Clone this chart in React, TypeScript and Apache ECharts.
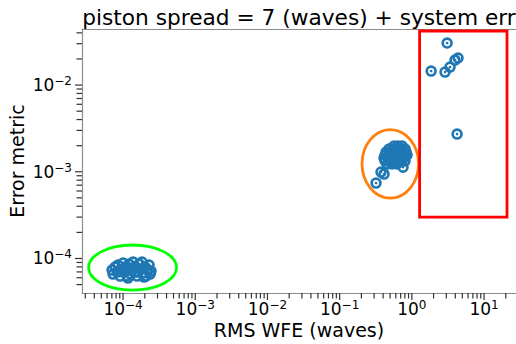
import React, { useEffect, useRef } from "react";
import * as echarts from "echarts";

const FONT = "DejaVu Sans";
const BLUE = "#1f77b4";

const X_MIN = 2.7e-5;
const X_MAX = 27.7;
const Y_MIN = 4.0e-5;
const Y_MAX = 4.43e-2;

const titleText = "piston spread = 7 (waves) + system err";
const xName = "RMS WFE (waves)";
const yName = "Error metric";

// low-error cluster (green ellipse)
const lowX = [7.04e-5, 7.27e-5, 7.75e-5, 8.26e-5, 8.52e-5, 9.09e-5, 9.38e-5, 1.0e-4, 1.03e-4, 1.1e-4, 1.14e-4, 1.21e-4, 1.25e-4, 1.29e-4, 1.38e-4, 1.42e-4, 1.51e-4, 1.56e-4, 1.67e-4, 1.72e-4, 1.83e-4, 1.89e-4, 2.02e-4, 2.08e-4, 2.22e-4, 2.29e-4, 2.44e-4, 2.37e-4, 1.95e-4, 1.17e-4];
const lowY = [7.35e-5, 6.61e-5, 7.96e-5, 6.97e-5, 8.39e-5, 6.27e-5, 7.54e-5, 8.85e-5, 6.97e-5, 7.96e-5, 6.27e-5, 8.62e-5, 7.35e-5, 6.61e-5, 9.09e-5, 7.96e-5, 6.97e-5, 6.27e-5, 8.62e-5, 7.54e-5, 9.09e-5, 6.78e-5, 7.96e-5, 6.27e-5, 7.35e-5, 8.39e-5, 7.16e-5, 6.61e-5, 6.1e-5, 5.94e-5];

// mid cluster (orange ellipse)
const midX = [0.566, 0.644, 0.732, 0.483, 0.549, 0.624, 0.708, 0.805, 0.44, 0.499, 0.566, 0.644, 0.732, 0.832, 0.426, 0.483, 0.549, 0.624, 0.708, 0.805, 0.859, 0.412, 0.468, 0.532, 0.604, 0.687, 0.78, 0.426, 0.483, 0.549, 0.624, 0.708, 0.805, 0.454, 0.532, 0.624, 0.755, 0.374, 0.412, 0.319];
const midY = [1.98e-3, 1.98e-3, 1.98e-3, 1.83e-3, 1.83e-3, 1.83e-3, 1.83e-3, 1.83e-3, 1.69e-3, 1.69e-3, 1.69e-3, 1.69e-3, 1.69e-3, 1.69e-3, 1.56e-3, 1.56e-3, 1.56e-3, 1.56e-3, 1.56e-3, 1.56e-3, 1.56e-3, 1.44e-3, 1.44e-3, 1.44e-3, 1.44e-3, 1.44e-3, 1.44e-3, 1.33e-3, 1.33e-3, 1.33e-3, 1.33e-3, 1.33e-3, 1.33e-3, 1.23e-3, 1.23e-3, 1.23e-3, 1.13e-3, 9.92e-4, 9.4e-4, 7.41e-4];

// high-error cluster (red box)
const highX = [3.08, 1.85, 2.88, 3.38, 3.96, 4.36, 4.23];
const highY = [0.0305, 0.0145, 0.0141, 0.0161, 0.0194, 0.0205, 0.00272];

// annotations: [xFrom, xTo, yFrom, yTo]
const greenEllipse = [3.33e-5, 5.51e-4, 4.32e-5, 1.43e-4];
const orangeEllipse = [0.204, 1.239, 4.97e-4, 3.07e-3];
const redBox = [1.28, 20.8, 3.0e-4, 0.042];

// axis ticks
const xMajorTicks = [1e-4, 1e-3, 1e-2, 1e-1, 1, 10];
const yMajorTicks = [1e-4, 1e-3, 1e-2];
const tickDecades = [-5, -4, -3, -2, -1, 0, 1];
const minorMultiples = [2, 3, 4, 5, 6, 7, 8, 9];

const minorTicks = (lo: number, hi: number) => {
  const out: number[] = [];
  tickDecades.forEach((d) =>
    minorMultiples.forEach((m) => {
      const v = m * Math.pow(10, d);
      if (v > lo * 1.001 && v < hi * 0.999) out.push(v);
    })
  );
  return out;
};

const zip = (xs: number[], ys: number[]) => xs.map((x, i) => [x, ys[i]]);

const RING =
  "path://M0,-10A10,10 0 1,1 0,10A10,10 0 1,1 0,-10ZM0,-5.4A5.4,5.4 0 1,0 0,5.4A5.4,5.4 0 1,0 0,-5.4ZM0,-2.4A2.4,2.4 0 1,1 0,2.4A2.4,2.4 0 1,1 0,-2.4Z";

const labelFmt = (v: number) => {
  const e = Math.round(Math.log10(v));
  return "{b|10}{s|" + (e < 0 ? "\u2212" : "") + Math.abs(e) + "}";
};
const labelRich = {
  b: { fontSize: 17, fontFamily: FONT, color: "#000", lineHeight: 20 },
  s: { fontSize: 12, fontFamily: FONT, color: "#000", lineHeight: 13, verticalAlign: "top" },
};

const tickSeries = (values: number[], axis: "x" | "y", len: number) => ({
  type: "custom",
  silent: true,
  clip: false,
  z: 5,
  data: values.map((v) => (axis === "x" ? [v, Y_MIN] : [X_MIN, v])),
  renderItem: (params: any, api: any) => {
    const p = api.coord([api.value(0), api.value(1)]);
    const shape =
      axis === "x"
        ? { x1: p[0], y1: p[1], x2: p[0], y2: p[1] + len }
        : { x1: p[0] - len, y1: p[1], x2: p[0], y2: p[1] };
    return { type: "line", shape, style: { stroke: "#333", lineWidth: 1.2 } };
  },
});

const shapeSeries = (box: number[], kind: "ellipse" | "rect", color: string) => ({
  type: "custom",
  silent: true,
  clip: false,
  z: 4,
  data: [box],
  renderItem: (params: any, api: any) => {
    const a = api.coord([api.value(0), api.value(2)]);
    const b = api.coord([api.value(1), api.value(3)]);
    const style = { fill: "none", stroke: color, lineWidth: 2.8 };
    if (kind === "ellipse") {
      return {
        type: "ellipse",
        shape: {
          cx: (a[0] + b[0]) / 2,
          cy: (a[1] + b[1]) / 2,
          rx: Math.abs(b[0] - a[0]) / 2,
          ry: Math.abs(b[1] - a[1]) / 2,
        },
        style,
      };
    }
    return {
      type: "rect",
      shape: {
        x: Math.min(a[0], b[0]),
        y: Math.min(a[1], b[1]),
        width: Math.abs(b[0] - a[0]),
        height: Math.abs(b[1] - a[1]),
      },
      style,
    };
  },
});

const scatterSeries = (name: string, xs: number[], ys: number[]) => ({
  name,
  type: "scatter",
  data: zip(xs, ys),
  symbol: RING,
  symbolSize: 11.5,
  itemStyle: { color: BLUE, opacity: 1 },
  z: 3,
});

export default function App() {
  const ref = useRef<HTMLDivElement>(null);
  useEffect(() => {
    if (!ref.current) return;
    const chart = echarts.init(ref.current, undefined, { renderer: "svg" });
    const axisLine = { show: true, lineStyle: { color: "#8c8c8c", width: 1.2 } };
    chart.setOption({
      animation: false,
      backgroundColor: "#fff",
      grid: {
        left: 82,
        right: 0,
        top: 29,
        bottom: 51,
        containLabel: false,
        outerBoundsMode: "none",
      },
      graphic: [
        {
          type: "text",
          x: 299,
          y: 17,
          style: {
            text: titleText,
            fontSize: 21.7,
            fontFamily: FONT,
            fill: "#000",
            textAlign: "center",
            textVerticalAlign: "middle",
          },
        },
      ],
      xAxis: [
        {
          type: "log",
          logBase: 10,
          min: X_MIN,
          max: X_MAX,
          axisLine,
          axisTick: { show: false },
          splitLine: { show: false },
          axisLabel: {
            formatter: labelFmt,
            rich: labelRich,
            margin: 6,
            showMinLabel: false,
            showMaxLabel: false,
          },
          name: xName,
          nameLocation: "middle",
          nameGap: 27,
          nameMoveOverlap: false,
          nameTextStyle: { fontSize: 19, fontFamily: FONT, color: "#000", lineHeight: 19 },
        },
        {
          type: "log",
          logBase: 10,
          position: "top",
          min: X_MIN,
          max: X_MAX,
          axisLine,
          axisTick: { show: false },
          axisLabel: { show: false },
          splitLine: { show: false },
        },
      ],
      yAxis: {
        type: "log",
        logBase: 10,
        min: Y_MIN,
        max: Y_MAX,
        axisLine,
        axisTick: { show: false },
        splitLine: { show: false },
        axisLabel: {
          formatter: labelFmt,
          rich: labelRich,
          margin: 10,
          showMinLabel: false,
          showMaxLabel: false,
        },
        name: yName,
        nameLocation: "middle",
        nameGap: 56,
        nameMoveOverlap: false,
        nameTextStyle: { fontSize: 19, fontFamily: FONT, color: "#000", lineHeight: 19 },
      },
      series: [
        scatterSeries("low", lowX, lowY),
        scatterSeries("mid", midX, midY),
        scatterSeries("high", highX, highY),
        shapeSeries(greenEllipse, "ellipse", "#00ff00"),
        shapeSeries(orangeEllipse, "ellipse", "#ff7f0e"),
        shapeSeries(redBox, "rect", "#ff0000"),
        tickSeries(xMajorTicks, "x", 7),
        tickSeries(minorTicks(X_MIN, X_MAX), "x", 5.5),
        tickSeries(yMajorTicks, "y", 7),
        tickSeries(minorTicks(Y_MIN, Y_MAX), "y", 5.5),
      ],
    });
    return () => chart.dispose();
  }, []);
  return (
    <div
      ref={ref}
      style={{ position: "fixed", left: 0, top: 0, width: 516, height: 344 }}
    />
  );
}
